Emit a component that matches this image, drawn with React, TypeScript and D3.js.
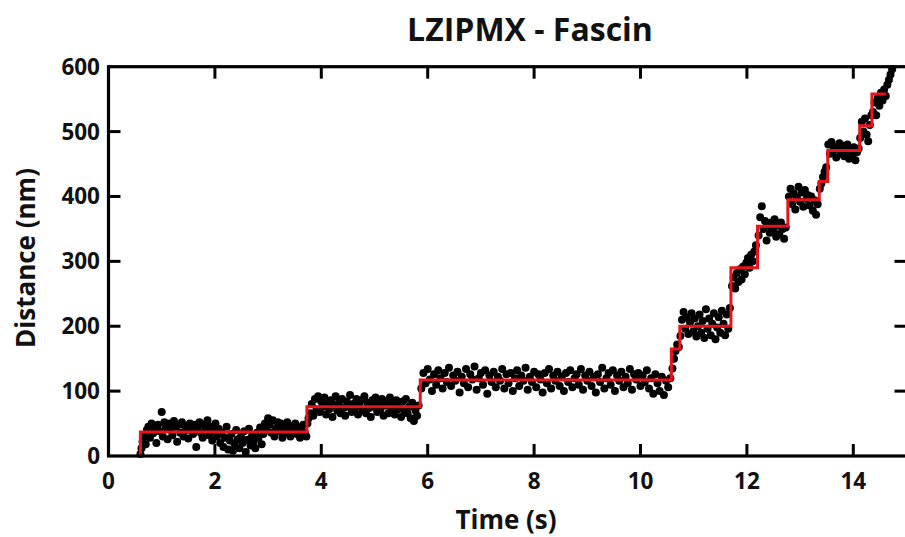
import React from "react";
import * as d3 from "d3";

const titleText = "LZIPMX - Fascin";
const xLabel = "Time (s)";
const yLabel = "Distance (nm)";
const xTicks = [0, 2, 4, 6, 8, 10, 12, 14];
const yTicks = [0, 100, 200, 300, 400, 500, 600];

// step fit (red): change times and the plateau levels between them
const stepTimes = [0.6, 3.73, 5.86, 10.58, 10.74, 11.7, 12.2, 12.77, 13.36, 13.52, 14.12, 14.35, 14.62];
const stepLevels = [37, 76, 117, 165, 200, 290, 354, 395, 423, 471, 509, 558];

// measured points [time s, distance nm]
const pointsA: [number, number][] = [
  [0.6, 3], [0.62, 12], [0.64, 22], [0.67, 30], [0.7, 18], [0.72, 40], [0.75, 45], [0.78, 28], [0.81, 50], [0.84, 35],
  [0.87, 42], [0.9, 20], [0.93, 48], [0.96, 38], [1.0, 68], [1.02, 30], [1.05, 52], [1.08, 44], [1.11, 26], [1.14, 50],
  [1.17, 40], [1.2, 32], [1.23, 54], [1.26, 45], [1.29, 22], [1.32, 48], [1.35, 36], [1.38, 52], [1.41, 30], [1.44, 46],
  [1.47, 40], [1.5, 27], [1.53, 50], [1.56, 42], [1.59, 34], [1.62, 48], [1.65, 14], [1.68, 44], [1.71, 52], [1.74, 35],
  [1.77, 28], [1.8, 48], [1.83, 40], [1.86, 55], [1.89, 32], [1.92, 45], [1.95, 24], [1.98, 38], [2.01, 50], [2.04, 30],
  [2.07, 42], [2.1, 20], [2.13, 36], [2.16, 14], [2.19, 28], [2.22, 45], [2.25, 10], [2.28, 24], [2.31, 34], [2.34, 8],
  [2.37, 18], [2.4, 40], [2.43, 26], [2.46, 12], [2.49, 30], [2.52, 20], [2.55, 38], [2.58, 6], [2.61, 25], [2.64, 42],
  [2.67, 16], [2.7, 32], [2.73, 22], [2.76, 12], [2.79, 36], [2.82, 28], [2.85, 44], [2.88, 18], [2.91, 34], [2.94, 50],
  [2.97, 40], [3.0, 58], [3.03, 48], [3.06, 36], [3.09, 55], [3.12, 30], [3.15, 42], [3.18, 52], [3.21, 38], [3.24, 50],
  [3.27, 28], [3.3, 45], [3.33, 35], [3.36, 52], [3.39, 40], [3.42, 30], [3.45, 46], [3.48, 38], [3.51, 50], [3.54, 34],
  [3.57, 44], [3.6, 28], [3.63, 40], [3.66, 48], [3.69, 36], [3.72, 30],
];
const pointsB: [number, number][] = [
  [3.74, 50], [3.76, 58], [3.79, 66], [3.82, 80], [3.85, 62], [3.88, 88], [3.91, 72], [3.94, 92], [3.97, 68], [4.0, 84],
  [4.03, 76], [4.06, 90], [4.09, 64], [4.12, 80], [4.15, 72], [4.18, 86], [4.21, 60], [4.24, 78], [4.27, 92], [4.3, 70],
  [4.33, 82], [4.36, 66], [4.39, 88], [4.42, 74], [4.45, 62], [4.48, 84], [4.51, 76], [4.54, 94], [4.57, 68], [4.6, 80],
  [4.63, 72], [4.66, 88], [4.69, 64], [4.72, 78], [4.75, 86], [4.78, 70], [4.81, 92], [4.84, 66], [4.87, 82], [4.9, 74],
  [4.93, 60], [4.96, 86], [4.99, 76], [5.02, 90], [5.05, 68], [5.08, 80], [5.11, 72], [5.14, 88], [5.17, 62], [5.2, 78],
  [5.23, 84], [5.26, 66], [5.29, 90], [5.32, 74], [5.35, 80], [5.38, 64], [5.41, 86], [5.44, 72], [5.47, 78], [5.5, 60],
  [5.53, 84], [5.56, 70], [5.59, 88], [5.62, 66], [5.65, 76], [5.68, 58], [5.71, 82], [5.74, 54], [5.77, 70], [5.8, 62],
  [5.83, 78],
];
const pointsC: [number, number][] = [
  [5.88, 104], [5.92, 128], [5.96, 112], [6.0, 134], [6.04, 118], [6.08, 100], [6.12, 126], [6.16, 110], [6.2, 132], [6.24, 120],
  [6.28, 104], [6.32, 128], [6.36, 114], [6.4, 136], [6.44, 108], [6.48, 124], [6.52, 116], [6.56, 130], [6.6, 98], [6.64, 122],
  [6.68, 112], [6.72, 134], [6.76, 106], [6.8, 126], [6.84, 118], [6.88, 138], [6.92, 102], [6.96, 120], [7.0, 128], [7.04, 110],
  [7.08, 132], [7.12, 96], [7.16, 124], [7.2, 114], [7.24, 130], [7.28, 106], [7.32, 122], [7.36, 116], [7.4, 134], [7.44, 104],
  [7.48, 126], [7.52, 112], [7.56, 128], [7.6, 100], [7.64, 120], [7.68, 132], [7.72, 108], [7.76, 124], [7.8, 116], [7.84, 136],
  [7.88, 102], [7.92, 122], [7.96, 114], [8.0, 130], [8.04, 106], [8.08, 126], [8.12, 118], [8.16, 98], [8.2, 128], [8.24, 112],
  [8.28, 134], [8.32, 104], [8.36, 124], [8.4, 116], [8.44, 130], [8.48, 108], [8.52, 122], [8.56, 100], [8.6, 128], [8.64, 114],
  [8.68, 132], [8.72, 106], [8.76, 120], [8.8, 126], [8.84, 110], [8.88, 134], [8.92, 102], [8.96, 124], [9.0, 116], [9.04, 130],
  [9.08, 108], [9.12, 122], [9.16, 98], [9.2, 126], [9.24, 114], [9.28, 136], [9.32, 104], [9.36, 120], [9.4, 128], [9.44, 110],
  [9.48, 132], [9.52, 100], [9.56, 124], [9.6, 116], [9.64, 130], [9.68, 106], [9.72, 122], [9.76, 112], [9.8, 134], [9.84, 102],
  [9.88, 126], [9.92, 118], [9.96, 128], [10.0, 108], [10.04, 124], [10.08, 114], [10.12, 132], [10.16, 104], [10.2, 120], [10.24, 96],
  [10.28, 126], [10.32, 112], [10.36, 100], [10.4, 122], [10.44, 94], [10.48, 116], [10.52, 106], [10.56, 120],
];
const pointsD: [number, number][] = [
  [10.6, 135], [10.63, 150], [10.66, 162], [10.69, 172], [10.72, 168], [10.75, 185],
  [10.78, 210], [10.81, 222], [10.84, 196], [10.87, 214], [10.9, 188], [10.93, 206], [10.96, 220], [10.99, 192], [11.02, 212], [11.05, 184],
  [11.08, 200], [11.11, 218], [11.14, 190], [11.17, 208], [11.2, 182], [11.23, 226], [11.26, 196], [11.29, 212], [11.32, 186], [11.35, 204],
  [11.38, 220], [11.41, 180], [11.44, 198], [11.47, 214], [11.5, 190], [11.53, 224], [11.56, 204], [11.59, 186], [11.62, 218], [11.65, 196],
  [11.68, 228],
];
const pointsE: [number, number][] = [
  [11.72, 262], [11.75, 275], [11.78, 258], [11.81, 282], [11.84, 268], [11.87, 288], [11.9, 272], [11.93, 292], [11.96, 280], [11.99, 298],
  [12.02, 305], [12.05, 290], [12.08, 310], [12.11, 300], [12.14, 315], [12.17, 325],
  [12.22, 340], [12.25, 368], [12.28, 385], [12.31, 350], [12.34, 362], [12.37, 332], [12.4, 356], [12.43, 344], [12.46, 360], [12.49, 348],
  [12.52, 365], [12.55, 338], [12.58, 355], [12.61, 342], [12.64, 360], [12.67, 350], [12.7, 335], [12.73, 352],
  [12.79, 400], [12.82, 412], [12.85, 388], [12.88, 405], [12.91, 380], [12.94, 398], [12.97, 415], [13.0, 392], [13.03, 406], [13.06, 384],
  [13.09, 410], [13.12, 396], [13.15, 402], [13.18, 386], [13.21, 400], [13.24, 378], [13.27, 394], [13.3, 372], [13.33, 388],
  [13.37, 412], [13.4, 420], [13.43, 430], [13.46, 438], [13.49, 445],
];
const pointsF: [number, number][] = [
  [13.53, 480], [13.56, 466], [13.59, 484], [13.62, 470], [13.65, 476], [13.68, 460], [13.71, 474], [13.74, 482], [13.77, 466], [13.8, 478],
  [13.83, 462], [13.86, 472], [13.89, 480], [13.92, 458], [13.95, 470], [13.98, 464], [14.01, 476], [14.04, 456], [14.07, 468], [14.1, 474],
  [14.13, 490], [14.16, 515], [14.19, 500], [14.22, 520], [14.25, 495], [14.28, 485], [14.31, 510], [14.34, 525],
  [14.37, 530], [14.4, 545], [14.43, 525], [14.46, 552], [14.49, 540], [14.52, 560], [14.55, 548], [14.58, 565], [14.61, 555],
  [14.64, 572], [14.67, 580], [14.7, 588], [14.73, 596],
];

const W = 905;
const H = 537;
const FONT = "'Open Sans', 'Liberation Sans', sans-serif";

export default function App() {
  const x = d3.scaleLinear().domain([0, 15]).range([108.5, 906.5]);
  const y = d3.scaleLinear().domain([0, 600]).range([456, 66.7]);
  const points = [...pointsA, ...pointsB, ...pointsC, ...pointsD, ...pointsE, ...pointsF];

  const stepPts: [number, number][] = [[stepTimes[0], 0]];
  stepLevels.forEach((lv, i) => {
    stepPts.push([stepTimes[i], lv]);
    stepPts.push([stepTimes[i + 1], lv]);
  });
  const line = d3.line<[number, number]>().x((d) => x(d[0])).y((d) => y(d[1]));

  const x0 = x(0), xr = 908.5, yb = y(0), yt = y(600);
  const tickLen = 12;

  return (
    <svg width={W} height={H} style={{ position: "absolute", left: 0, top: 0, background: "#fff" }}>
      <rect x={0} y={0} width={W} height={H} fill="#fff" />
      <text x={530} y={41} textAnchor="middle" fontFamily={FONT} fontWeight={700} fontSize={32} fill="#111">{titleText}</text>

      {points.map((p, i) => (
        <circle key={i} cx={x(p[0])} cy={y(p[1])} r={4} fill="#000" />
      ))}
      <path d={line(stepPts) || ""} fill="none" stroke="#e8141c" strokeWidth={3} strokeLinejoin="miter" />

      {/* frame */}
      <rect x={x0} y={yt} width={xr - x0} height={yb - yt} fill="none" stroke="#000" strokeWidth={3.2} />

      {xTicks.filter((t) => t > 0).map((t) => (
        <g key={"xt" + t}>
          <line x1={x(t)} x2={x(t)} y1={yb} y2={yb - tickLen} stroke="#000" strokeWidth={3} />
          <line x1={x(t)} x2={x(t)} y1={yt} y2={yt + tickLen} stroke="#000" strokeWidth={3} />
        </g>
      ))}
      {yTicks.filter((t) => t > 0 && t < 600).map((t) => (
        <g key={"yt" + t}>
          <line x1={x0} x2={x0 + tickLen} y1={y(t)} y2={y(t)} stroke="#000" strokeWidth={3} />
          <line x1={xr} x2={xr - tickLen - 2} y1={y(t)} y2={y(t)} stroke="#000" strokeWidth={3} />
        </g>
      ))}

      {xTicks.map((t) => (
        <text key={"xl" + t} x={x(t)} y={489} textAnchor="middle" fontFamily={FONT} fontWeight={700} fontSize={22.5} fill="#111">{t}</text>
      ))}
      {yTicks.map((t) => (
        <text key={"yl" + t} x={100} y={y(t) + 8} textAnchor="end" fontFamily={FONT} fontWeight={700} fontSize={22.5} fill="#111">{t}</text>
      ))}

      <text x={506} y={529} textAnchor="middle" fontFamily={FONT} fontWeight={700} fontSize={26} fill="#111">{xLabel}</text>
      <text transform={`translate(35, 258) rotate(-90)`} textAnchor="middle" fontFamily={FONT} fontWeight={700} fontSize={26} fill="#111">{yLabel}</text>
    </svg>
  );
}
